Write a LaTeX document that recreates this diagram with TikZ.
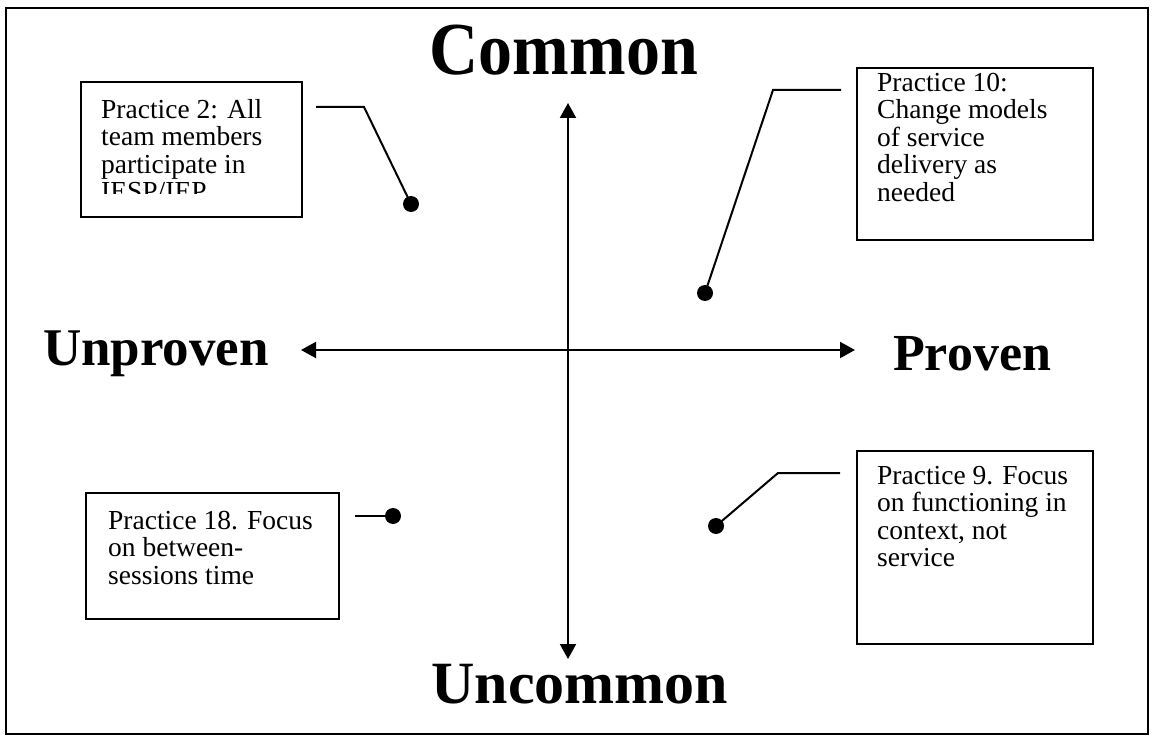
\documentclass[tikz,border=0pt]{standalone}
\usepackage{fontspec}
\setmainfont{Liberation Serif}
\usetikzlibrary{arrows.meta}
\newcommand{\firstline}{\rule{0pt}{20pt}}
\begin{document}
\begin{tikzpicture}[x=1pt,y=-1pt,
  frameline/.style={line width=2.2pt},
  boxline/.style={draw, line width=2.1pt, inner sep=0pt},
  axis/.style={line width=2pt, {Triangle[length=15pt,width=16pt]}-{Triangle[length=15pt,width=16pt]}},
  leader/.style={line width=2pt},
  dotnode/.style={circle, fill=black, inner sep=0pt, minimum size=16pt},
  boxtext/.style={anchor=north west, align=left, inner sep=0pt, font=\fontsize{27.5}{27.5}\selectfont},
  biglabel/.style={inner sep=0pt, anchor=base}
]
\useasboundingbox (0,0) rectangle (1152,738);
% outer frame
\draw[frameline] (6,8) rectangle (1148,734);

% axis labels
\node[biglabel] (common) at (564,75) {\scalebox{1}[1.1]{\fontsize{68}{68}\selectfont\bfseries Common}};
\node[biglabel] (uncommon) at (580,703) {\fontsize{60}{60}\selectfont\bfseries Uncommon};
\node[biglabel, anchor=base west] (unproven) at (43,365) {\fontsize{53}{53}\selectfont\bfseries Unproven};
\node[biglabel, anchor=base west] (proven) at (893,370) {\fontsize{52}{52}\selectfont\bfseries Proven};

% axes
\coordinate (vtop) at (568,103);
\coordinate (vbot) at (568,659);
\coordinate (hleft) at (301,350);
\coordinate (hright) at (855,350);
\draw[axis] (vtop) -- (vbot);
\draw[axis] (hleft) -- (hright);

% Practice 2 box (text clipped at bottom)
\begin{scope}
  \clip (80,81) rectangle (301,194);
  \node[boxtext] (t2) at (101,98) {\firstline Practice 2: All\\team members\\participate in\\IESP/IEP};
\end{scope}
\node[boxline, minimum width=221pt, minimum height=135pt, anchor=north west] (b2) at (80,81) {};

% Practice 10 box
\node[boxline, minimum width=236pt, minimum height=172pt, anchor=north west] (b10) at (856,67) {};
\node[boxtext] (t10) at (877,71) {\firstline Practice 10:\\Change models\\of service\\delivery as\\needed};

% Practice 18 box
\node[boxline, minimum width=253pt, minimum height=126pt, anchor=north west] (b18) at (85,492) {};
\node[boxtext] (t18) at (108,509) {\firstline Practice 18. Focus\\on between-\\sessions time};

% Practice 9 box
\node[boxline, minimum width=236pt, minimum height=193pt, anchor=north west] (b9) at (856,450) {};
\node[boxtext] (t9) at (877,464) {\firstline Practice 9. Focus\\on functioning in\\context, not\\service};

% dots
\node[dotnode] (d2) at (411,204) {};
\node[dotnode] (d10) at (705,293) {};
\node[dotnode] (d18) at (393,516) {};
\node[dotnode] (d9) at (716,526) {};

% leader lines
\coordinate (l2a) at (316,107);
\coordinate (l2b) at (364,107);
\draw[leader] (l2a) -- (l2b) -- (d2.center);
\coordinate (l10a) at (841,90);
\coordinate (l10b) at (773,90);
\draw[leader] (l10a) -- (l10b) -- (d10.center);
\coordinate (l18a) at (355,516);
\draw[leader] (l18a) -- (d18.center);
\coordinate (l9a) at (840,473);
\coordinate (l9b) at (778,473);
\draw[leader] (l9a) -- (l9b) -- (d9.center);
\end{tikzpicture}
\end{document}
